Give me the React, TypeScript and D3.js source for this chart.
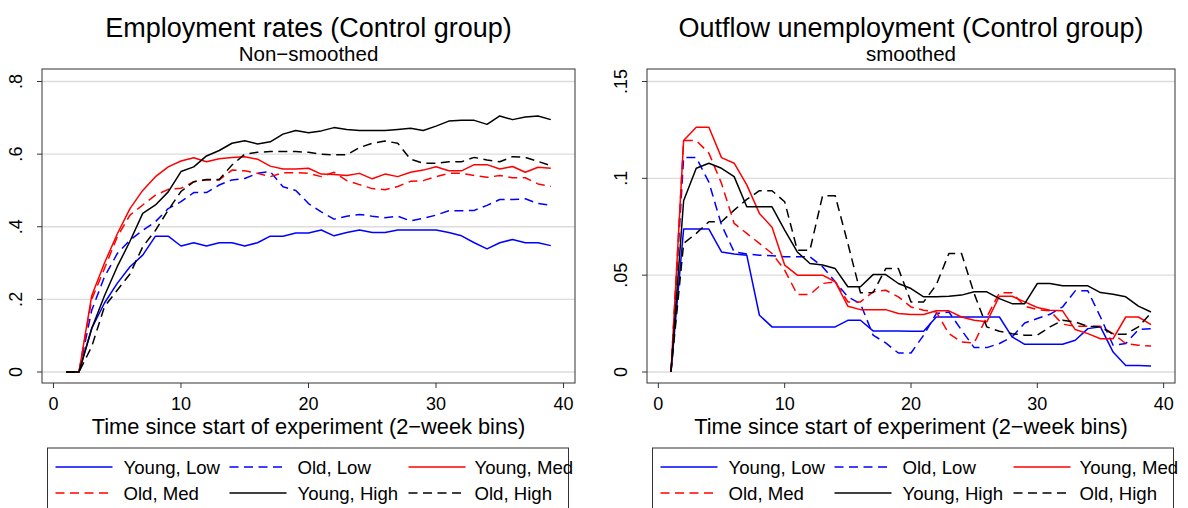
import React from "react";
import * as d3 from "d3";

// ---------- DATA ----------
const periods = [1, 2, 3, 4, 5, 6, 7, 8, 9, 10, 11, 12, 13, 14, 15, 16, 17, 18, 19, 20, 21, 22, 23, 24, 25, 26, 27, 28, 29, 30, 31, 32, 33, 34, 35, 36, 37, 38, 39];

const xTicks = [0, 10, 20, 30, 40];
const empTicks = [0, 0.2, 0.4, 0.6, 0.8];
const empTickLabels = ["0", ".2", ".4", ".6", ".8"];
const outTicks = [0, 0.05, 0.1, 0.15];
const outTickLabels = ["0", ".05", ".1", ".15"];

const seriesNames = ["Young, Low", "Old, Low", "Young, Med", "Old, Med", "Young, High", "Old, High"];

// Employment rates (non-smoothed)
const empYoungLow = [0, 0, 0.12, 0.19, 0.244, 0.29, 0.322, 0.374, 0.374, 0.347, 0.356, 0.347, 0.356, 0.356, 0.347, 0.356, 0.374, 0.374, 0.383, 0.383, 0.391, 0.375, 0.384, 0.391, 0.384, 0.384, 0.391, 0.391, 0.391, 0.391, 0.384, 0.375, 0.356, 0.339, 0.356, 0.365, 0.356, 0.356, 0.348];
const empOldLow = [0, 0, 0.17, 0.262, 0.326, 0.363, 0.39, 0.414, 0.45, 0.469, 0.494, 0.494, 0.515, 0.529, 0.533, 0.547, 0.552, 0.51, 0.5, 0.464, 0.441, 0.421, 0.429, 0.434, 0.429, 0.425, 0.429, 0.416, 0.423, 0.432, 0.444, 0.444, 0.445, 0.459, 0.475, 0.475, 0.477, 0.464, 0.459];
const empYoungMed = [0, 0, 0.21, 0.3, 0.38, 0.45, 0.5, 0.538, 0.565, 0.581, 0.59, 0.579, 0.587, 0.591, 0.593, 0.586, 0.567, 0.559, 0.559, 0.561, 0.545, 0.544, 0.541, 0.547, 0.532, 0.545, 0.538, 0.55, 0.556, 0.565, 0.554, 0.554, 0.571, 0.571, 0.559, 0.566, 0.55, 0.564, 0.561];
const empOldMed = [0, 0, 0.2, 0.285, 0.372, 0.432, 0.46, 0.487, 0.503, 0.506, 0.524, 0.529, 0.529, 0.556, 0.554, 0.547, 0.538, 0.549, 0.549, 0.547, 0.538, 0.55, 0.527, 0.516, 0.505, 0.502, 0.511, 0.525, 0.527, 0.538, 0.547, 0.547, 0.541, 0.536, 0.541, 0.535, 0.535, 0.518, 0.511];
const empYoungHigh = [0, 0, 0.12, 0.21, 0.29, 0.36, 0.437, 0.46, 0.496, 0.552, 0.565, 0.595, 0.61, 0.63, 0.637, 0.628, 0.634, 0.655, 0.665, 0.659, 0.664, 0.673, 0.668, 0.665, 0.665, 0.665, 0.668, 0.671, 0.665, 0.677, 0.691, 0.693, 0.693, 0.682, 0.705, 0.695, 0.702, 0.705, 0.695];
const empOldHigh = [0, 0, 0.07, 0.18, 0.225, 0.27, 0.345, 0.39, 0.446, 0.497, 0.524, 0.53, 0.53, 0.57, 0.6, 0.605, 0.607, 0.607, 0.607, 0.605, 0.6, 0.598, 0.598, 0.618, 0.63, 0.636, 0.63, 0.586, 0.575, 0.575, 0.579, 0.579, 0.591, 0.584, 0.579, 0.593, 0.591, 0.58, 0.568];

// Outflow unemployment (smoothed)
const outYoungLow = [0, 0.0738, 0.0738, 0.0738, 0.062, 0.0609, 0.0603, 0.0293, 0.0233, 0.0233, 0.0233, 0.0233, 0.0233, 0.0233, 0.0267, 0.0267, 0.0212, 0.0212, 0.0212, 0.021, 0.021, 0.0284, 0.0284, 0.0284, 0.0284, 0.0284, 0.0284, 0.0181, 0.0143, 0.0143, 0.0143, 0.0143, 0.0164, 0.0224, 0.0233, 0.0103, 0.0034, 0.0033, 0.0031];
const outOldLow = [0, 0.1107, 0.1107, 0.098, 0.0759, 0.062, 0.0609, 0.0603, 0.06, 0.0595, 0.0595, 0.0595, 0.0543, 0.0466, 0.0388, 0.0353, 0.019, 0.015, 0.0098, 0.0098, 0.019, 0.0302, 0.031, 0.0216, 0.0126, 0.0126, 0.0147, 0.0181, 0.0253, 0.0276, 0.0298, 0.0336, 0.0419, 0.0419, 0.0284, 0.0138, 0.0147, 0.0219, 0.0224];
const outYoungMed = [0, 0.1195, 0.1264, 0.1264, 0.1107, 0.1078, 0.0966, 0.0819, 0.0747, 0.0552, 0.05, 0.05, 0.05, 0.0466, 0.034, 0.0322, 0.0322, 0.0322, 0.0302, 0.0297, 0.0297, 0.0316, 0.0316, 0.0284, 0.0267, 0.0259, 0.0391, 0.0391, 0.0362, 0.0333, 0.0319, 0.0316, 0.0219, 0.0198, 0.0172, 0.0172, 0.0284, 0.0284, 0.0245];
const outOldMed = [0, 0.1195, 0.1195, 0.113, 0.0974, 0.0767, 0.0716, 0.0664, 0.0612, 0.0526, 0.04, 0.04, 0.0457, 0.0466, 0.0362, 0.0362, 0.0414, 0.0422, 0.0388, 0.0336, 0.0319, 0.031, 0.0198, 0.0155, 0.015, 0.0284, 0.0409, 0.0409, 0.034, 0.0322, 0.0316, 0.0247, 0.0236, 0.0236, 0.0236, 0.0198, 0.0147, 0.0138, 0.0134];
const outYoungHigh = [0, 0.0884, 0.1052, 0.1078, 0.1052, 0.1009, 0.0853, 0.0853, 0.0853, 0.0733, 0.062, 0.056, 0.0552, 0.0534, 0.044, 0.044, 0.0503, 0.0503, 0.0457, 0.0431, 0.0388, 0.0388, 0.0391, 0.0397, 0.0414, 0.0414, 0.0379, 0.0353, 0.0353, 0.0457, 0.0457, 0.0445, 0.0445, 0.0445, 0.041, 0.0402, 0.0388, 0.034, 0.031];
const outOldHigh = [0, 0.0664, 0.0716, 0.0776, 0.0776, 0.0836, 0.0891, 0.0936, 0.0936, 0.0879, 0.0629, 0.0629, 0.091, 0.091, 0.0664, 0.0409, 0.041, 0.0534, 0.0534, 0.0362, 0.0362, 0.045, 0.0612, 0.0612, 0.0405, 0.0233, 0.021, 0.0198, 0.019, 0.019, 0.0233, 0.0267, 0.0259, 0.0236, 0.0233, 0.0195, 0.0195, 0.0233, 0.0305];

const seriesColors = ["#0000ff", "#0000ff", "#ff0000", "#ff0000", "#000000", "#000000"];
const seriesDashed = [false, true, false, true, false, true];

// ---------- STYLE ----------
const FONT = "'Liberation Sans', Arial, Helvetica, sans-serif";
const GRID = "#dcdcdc";
const DASH = "9,5.5";

// legend column offsets relative to the legend box's left edge
const legendKeyX = [8, 182, 361];
const legendTextX = [76, 250, 427];

type PanelProps = {
  title: string;
  subtitle: string;
  series: number[][];
  yTicks: number[];
  yTickLabels: string[];
  yDomainTop: number;
  frame: { left: number; right: number; top: number; bottom: number };
  yPix: [number, number];
};

function Panel(p: PanelProps) {
  const fw = p.frame.right - p.frame.left;
  const margin = fw * 0.0215;
  const x = d3
    .scaleLinear()
    .domain([0, 40])
    .range([p.frame.left + margin, p.frame.right - margin]);
  const y = d3.scaleLinear().domain([0, p.yDomainTop]).range(p.yPix);
  const line = d3
    .line<number>()
    .x((_, i) => x(periods[i]))
    .y((d) => y(d));
  const cx = (p.frame.left + p.frame.right) / 2;
  const lbLeft = p.frame.left + 5.5;
  const lbWidth = 521;
  const lbTop = 448;
  const rows = [467, 493];
  return (
    <g>
      <text x={cx} y={37} textAnchor="middle" fontFamily={FONT} fontSize={27} fill="#000">
        {p.title}
      </text>
      <text x={cx} y={61} textAnchor="middle" fontFamily={FONT} fontSize={20.5} fill="#000">
        {p.subtitle}
      </text>
      {p.yTicks.map((t) => (
        <line key={"g" + t} x1={p.frame.left} x2={p.frame.right} y1={y(t)} y2={y(t)} stroke={GRID} strokeWidth={1.4} />
      ))}
      <rect
        x={p.frame.left}
        y={p.frame.top}
        width={fw}
        height={p.frame.bottom - p.frame.top}
        fill="none"
        stroke="#333"
        strokeWidth={1}
      />
      {p.yTicks.map((t, i) => (
        <g key={"yt" + t}>
          <line x1={p.frame.left - 5} x2={p.frame.left} y1={y(t)} y2={y(t)} stroke="#333" />
          <text
            transform={`translate(${p.frame.left - 20},${y(t)}) rotate(-90)`}
            textAnchor="middle"
            fontFamily={FONT}
            fontSize={18}
            fill="#000"
          >
            {p.yTickLabels[i]}
          </text>
        </g>
      ))}
      {xTicks.map((t) => (
        <g key={"xt" + t}>
          <line x1={x(t)} x2={x(t)} y1={p.frame.bottom} y2={p.frame.bottom + 5} stroke="#333" />
          <text x={x(t)} y={409.5} textAnchor="middle" fontFamily={FONT} fontSize={18} fill="#000">
            {t}
          </text>
        </g>
      ))}
      <text x={cx} y={434} textAnchor="middle" fontFamily={FONT} fontSize={21.8} fill="#000">
        Time since start of experiment (2−week bins)
      </text>
      {p.series.map((s, i) => (
        <path
          key={"s" + i}
          d={line(s) || ""}
          fill="none"
          stroke={seriesColors[i]}
          strokeWidth={1.5}
          strokeDasharray={seriesDashed[i] ? DASH : undefined}
          strokeLinejoin="round"
        />
      ))}
      <rect x={lbLeft} y={lbTop} width={lbWidth} height={80} fill="none" stroke="#333" strokeWidth={1} />
      {seriesNames.map((n, i) => {
        const col = i % 3;
        const row = Math.floor(i / 3);
        const kx = lbLeft + legendKeyX[col];
        const ky = rows[row];
        return (
          <g key={"l" + i}>
            <line
              x1={kx}
              x2={kx + 57}
              y1={ky}
              y2={ky}
              stroke={seriesColors[i]}
              strokeWidth={1.5}
              strokeDasharray={seriesDashed[i] ? DASH : undefined}
            />
            <text x={lbLeft + legendTextX[col]} y={ky + 6.5} fontFamily={FONT} fontSize={18.6} fill="#000">
              {n}
            </text>
          </g>
        );
      })}
    </g>
  );
}

export default function App() {
  return (
    <svg
      width={1188}
      height={508}
      style={{ position: "absolute", left: 0, top: 0, background: "#fff" }}
    >
      <rect x={0} y={0} width={1188} height={508} fill="#fff" />
      <Panel
        title="Employment rates (Control group)"
        subtitle="Non−smoothed"
        series={[empYoungLow, empOldLow, empYoungMed, empOldMed, empYoungHigh, empOldHigh]}
        yTicks={empTicks}
        yTickLabels={empTickLabels}
        yDomainTop={0.8}
        frame={{ left: 42, right: 575, top: 69, bottom: 383 }}
        yPix={[372, 81.5]}
      />
      <Panel
        title="Outflow unemployment (Control group)"
        subtitle="smoothed"
        series={[outYoungLow, outOldLow, outYoungMed, outOldMed, outYoungHigh, outOldHigh]}
        yTicks={outTicks}
        yTickLabels={outTickLabels}
        yDomainTop={0.15}
        frame={{ left: 647, right: 1175, top: 69, bottom: 383 }}
        yPix={[372, 81.5]}
      />
    </svg>
  );
}
